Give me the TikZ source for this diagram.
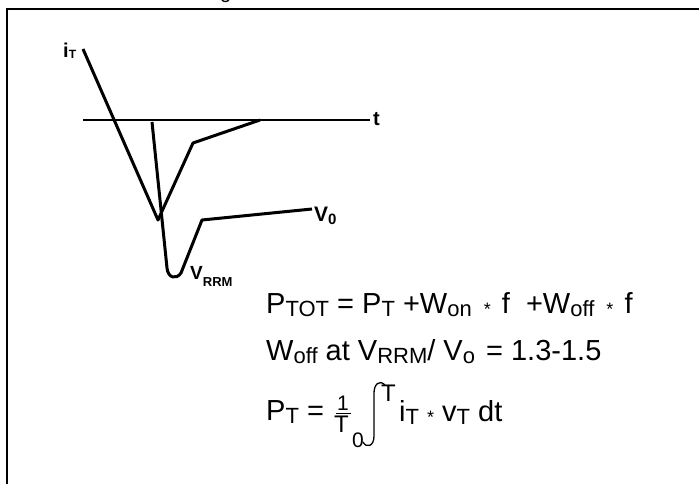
\documentclass[tikz,border=0pt]{standalone}
\usepackage{fontspec}
\setmainfont{Liberation Sans}
\newcommand{\fsz}[1]{\fontsize{#1}{#1}\selectfont}
\newcommand{\sbm}[1]{\raisebox{-3pt}{\fsz{22}#1}}
\newcommand{\mystar}{{\fsz{18}\raisebox{-2pt}{*}}}
\begin{document}
\begin{tikzpicture}[x=1pt,y=-1pt,
  frame/.style={line width=2pt},
  curve/.style={line width=3pt, line join=round, line cap=butt},
  axis/.style={line width=2.6pt},
  lbl/.style={inner sep=0pt, anchor=base west},
  blbl/.style={inner sep=0pt, anchor=base west, font=\bfseries},
  eq/.style={inner sep=0pt, anchor=base west, font=\fsz{29}}]
\useasboundingbox (0,0) rectangle (699,484);
% frame
\draw[frame] (7,490) -- (7,9.5) -- (705,9.5);
\node[lbl, font=\fsz{20}] (ttl) at (220,-1.5) {g};
% axis
\coordinate (a0) at (83,120);
\coordinate (a1) at (370,120);
\draw[axis] (a0) -- (a1);
\node[blbl, font=\bfseries\fsz{20}] (tl) at (373,126) {t};
% current
\draw[curve] (83,49) -- (158,220) -- (193,143) -- (260,120);
\node[blbl] (il) at (63,58) {{\fsz{20}i}{\fsz{12}\raisebox{-1pt}{T}}};
% voltage
\draw[curve] (152,122) -- (167,268) .. controls (168,278) and (176,280) .. (181,273) -- (202,220) -- (312,209);
\node[blbl] (v0) at (314,221) {{\fsz{21}V}{\fsz{15}\raisebox{-3pt}{0}}};
\node[blbl] (vr) at (190,279) {{\fsz{19}V}{\fsz{13}\raisebox{-7pt}{RRM}}};
% equations
\node[eq] (e1) at (266,313) {P\sbm{TOT} = P\sbm{T} +W\sbm{on}\hspace{4pt} \mystar{}\hspace{3pt} f\hspace{8pt} +W\sbm{off}\hspace{4pt} \mystar{}\hspace{3pt} f};
\node[eq] (e2) at (266,360) {W\sbm{off} at V\sbm{RRM}/ V\sbm{o}\hspace{3pt} = 1.3-1.5};
\node[eq] (e3) at (266,420) {P\sbm{T} =};
\node[lbl, font=\fsz{21}] (one) at (337,410) {1};
\draw[line width=1pt] (336,413) -- (351,413);
\node[lbl, font=\fsz{24}] (den) at (334,432) {T};
\node[lbl, font=\fsz{21}] (zer) at (352,447) {0};
\draw[line width=1.3pt] (385,385) .. controls (379,379) and (374,385) .. (374,393) -- (374,436) .. controls (374,447) and (366,448) .. (363,442);
\node[lbl, font=\fsz{24}] (up) at (381,401) {T};
\node[eq] (e3b) at (399,421) {i\sbm{T} \mystar{} v\sbm{T} dt};
\end{tikzpicture}
\end{document}
